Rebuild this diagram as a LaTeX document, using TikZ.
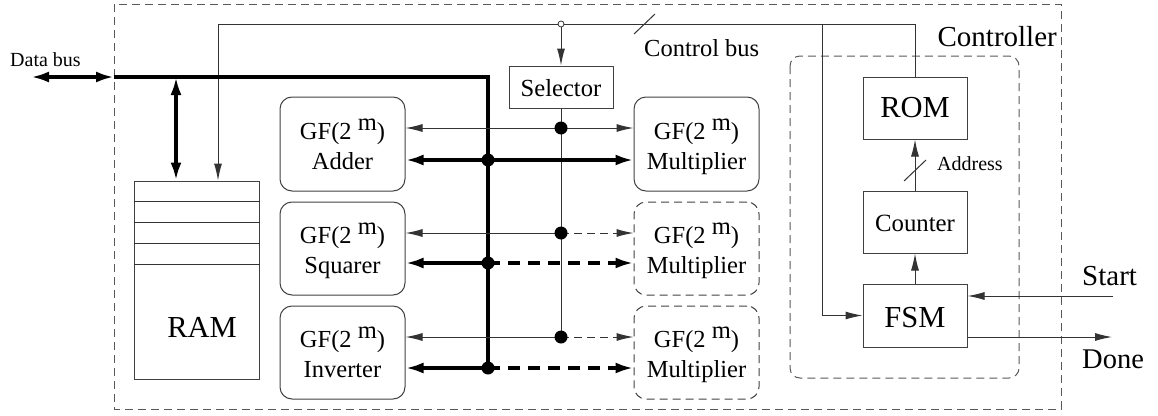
\documentclass[tikz,border=0pt]{standalone}
\usepackage{fontspec}
\setmainfont{Liberation Serif}
\usetikzlibrary{arrows.meta}
\newcommand{\nodesc}[1]{\raisebox{0pt}[\height][0pt]{#1}}
\newcommand{\gfm}{GF(2 \raisebox{9pt}{m})}
\begin{document}
\begin{tikzpicture}[x=1pt,y=-1pt,
  sa/.tip={Latex[length=17pt,width=8pt]},
  ba/.tip={Latex[length=18pt,width=11pt]},
  ln/.style={line width=1pt, draw=black!80},
  bus/.style={line width=3.5pt, draw=black},
  dsh/.style={dash pattern=on 8pt off 5pt},
  tdsh/.style={dash pattern=on 12pt off 8pt},
  frame/.style={draw=black!65, line width=1pt, dash pattern=on 8pt off 5pt},
  gfb/.style={draw=black!75, line width=1pt, rounded corners=12pt, minimum width=125pt,
    minimum height=94pt, inner sep=0pt, align=center, font=\fontsize{24.5}{30}\selectfont},
  gfd/.style={gfb, dash pattern=on 8pt off 5pt},
  box/.style={draw=black!75, line width=1pt, inner sep=0pt, minimum width=104pt},
  dot/.style={circle, fill=black, inner sep=0pt, minimum size=13pt}
]
\useasboundingbox (0,0) rectangle (1158,415);
% frames
\draw[frame] (114,4) rectangle (1061,409);
\draw[frame, rounded corners=10pt] (790,56) rectangle (1019,378);
% blocks
\node[gfb] (add) at (342.5,144) {\gfm\\\nodesc{Adder}};
\node[gfb, minimum height=93pt] (sq) at (342.5,248.5) {\gfm\\\nodesc{Squarer}};
\node[gfb, minimum height=93pt] (inv) at (342.5,352.5) {\gfm\\\nodesc{Inverter}};
\node[gfb] (mul1) at (696.5,144) {\gfm\\\nodesc{Multiplier}};
\node[gfd, minimum height=93pt] (mul2) at (696.5,248.5) {\gfm\\\nodesc{Multiplier}};
\node[gfd, minimum height=93pt] (mul3) at (696.5,352.5) {\gfm\\\nodesc{Multiplier}};
\node[box, minimum height=42pt, font=\fontsize{24.6}{30}\selectfont, text height=20pt] (sel) at (561,87) {Selector};
\node[box, minimum height=62pt, font=\fontsize{30.5}{36}\selectfont] (rom) at (915,108) {ROM};
\node[box, minimum height=62pt, font=\fontsize{24.8}{30}\selectfont, text height=20pt] (cnt) at (915,222) {Counter};
\node[box, minimum height=63pt, font=\fontsize{30.5}{36}\selectfont, text height=24pt] (fsm) at (915,315.5) {FSM};
\node[box, minimum width=125pt, minimum height=198pt] (ram) at (196.5,280) {};
\foreach \yy in {201,222,243,264} \draw[ln] (ram.west |- 0,\yy) -- (ram.east |- 0,\yy);
\node[anchor=base, font=\fontsize{30.5}{36}\selectfont] (ramlbl) at (202,337) {RAM};
% labels
\node[anchor=base west, inner sep=0pt, font=\fontsize{20}{24}\selectfont] (dblbl) at (10,66) {Data bus};
\node[anchor=base west, inner sep=0pt, font=\fontsize{24.5}{30}\selectfont] (cblbl) at (644,56) {Control bus};
\node[anchor=base east, inner sep=0pt, font=\fontsize{29}{34}\selectfont] (ctrl) at (1057,46) {Controller};
\node[anchor=base west, inner sep=0pt, font=\fontsize{20}{24}\selectfont] (addr) at (937,170) {Address};
\node[anchor=base west, inner sep=0pt, font=\fontsize{29}{34}\selectfont] (startlbl) at (1082,285) {Start};
\node[anchor=base west, inner sep=0pt, font=\fontsize{28.5}{34}\selectfont] (donelbl) at (1082,368) {Done};
% coordinates
\coordinate (dbL) at (31,77);
\coordinate (dbR) at (114,77);
\coordinate (busT) at (488,77);
\coordinate (ramTap) at (176,77);
\coordinate (ctlL) at (218,24);
\coordinate (brFSM) at (822,24);
\coordinate (t1) at (561,128);
\coordinate (t2) at (561,233);
\coordinate (t3) at (561,337);
\coordinate (T1) at (488,160);
\coordinate (T2) at (488,263);
\coordinate (T3) at (488,368);
\coordinate (startE) at (1113,296);
\coordinate (doneE) at (1112,337);
% control bus
\draw[ln, -sa] (rom.north) |- (ctlL) -- (ctlL |- ram.north);
\draw[ln, -sa] (brFSM) |- (fsm.west);
\node[circle, draw=black!80, line width=0.8pt, fill=white, inner sep=0pt, minimum size=6pt] (tap) at (561,24) {};
\draw[ln, -sa] (tap) -- (sel.north);
\coordinate (sl1a) at (634,34); \coordinate (sl1b) at (655,14);
\draw[ln] (sl1a) -- (sl1b);
\draw[ln, -sa] (cnt.north) -- (rom.south);
\coordinate (sl2a) at (904,181); \coordinate (sl2b) at (926,160);
\draw[ln] (sl2a) -- (sl2b);
\draw[ln, -sa] (fsm.north) -- (cnt.south);
\draw[ln, -sa] (startE) -- (fsm.east |- startE);
\draw[ln, -sa] (fsm.east |- doneE) -- (doneE);
% data bus
\draw[bus, ba-ba] (dbL) -- (dbR);
\draw[bus, line join=miter] (dbR) -- (busT) -- (T3);
\draw[bus, ba-ba] (ramTap) -- (ramTap |- ram.north);
% selector line
\draw[ln] (sel.south) -- (t3);
% row 1
\draw[ln, sa-sa] (add.east |- t1) -- (mul1.west |- t1);
\draw[bus, ba-ba] (add.east |- T1) -- (mul1.west |- T1);
% row 2
\draw[ln, sa-] (sq.east |- t2) -- (t2);
\draw[ln, dsh, -sa] (t2) -- (mul2.west |- t2);
\draw[bus, ba-] (sq.east |- T2) -- (T2);
\draw[bus, tdsh, -ba] (T2) -- (mul2.west |- T2);
% row 3
\draw[ln, sa-] (inv.east |- t3) -- (t3);
\draw[ln, dsh, -sa] (t3) -- (mul3.west |- t3);
\draw[bus, ba-] (inv.east |- T3) -- (T3);
\draw[bus, tdsh, -ba] (T3) -- (mul3.west |- T3);
% dots
\foreach \p in {t1,t2,t3,T1,T2,T3} \node[dot] at (\p) {};
\end{tikzpicture}
\end{document}
